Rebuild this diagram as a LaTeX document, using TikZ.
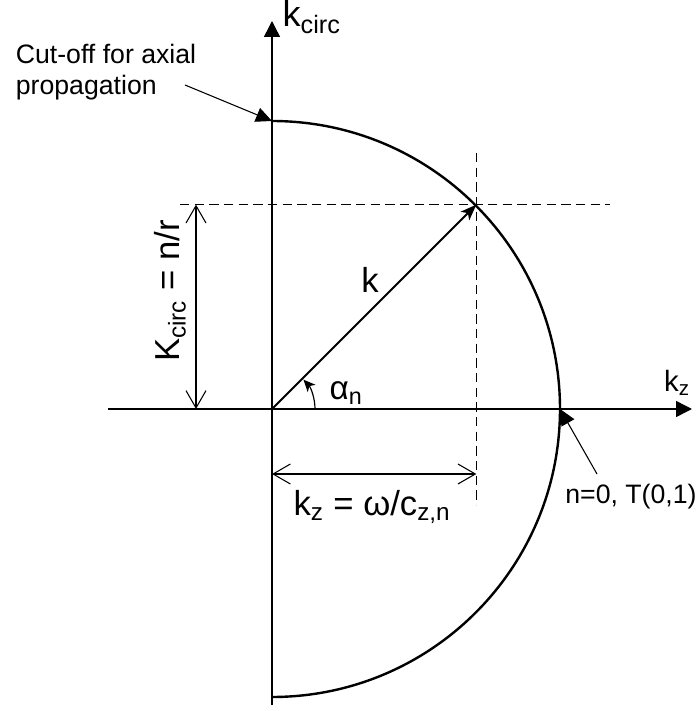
\documentclass[tikz,border=0pt]{standalone}
\usepackage{fontspec}
\setmainfont{Liberation Sans}
\usetikzlibrary{arrows.meta}

\tikzset{
  axisline/.style={line width=1.1pt,-{Triangle[length=12pt,width=12pt]}},
  guide/.style={line width=0.9pt,dash pattern=on 7pt off 4pt},
  measure/.style={line width=0.8pt,{Straight Barb[length=13pt,width=15pt]}-{Straight Barb[length=13pt,width=15pt]}},
  pointer/.style={line width=0.8pt,-{Triangle[length=12pt,width=11pt]}},
  smalltxt/.style={font=\fontsize{20}{23.5}\selectfont},
  bigtxt/.style={font=\fontsize{26}{30}\selectfont}
}

\begin{document}
\begin{tikzpicture}[x=0.75pt,y=0.75pt]
        \useasboundingbox (-272,-302) rectangle (427,409);
        % Origin and point on the circle
        \coordinate (O) at (0,0);
        \coordinate (P) at (45:289);
        \coordinate (top) at (0,288);
        \coordinate (right) at (288,0);
        % Axes
        \draw[axisline] (0,-296) -- (0,388);
        \draw[axisline] (-164,0) -- (420,0);
        \node[anchor=west,font=\fontsize{27}{30}\selectfont] (kcirc) at (6,392) {k\textsubscript{circ}};
        \node[font=\fontsize{22}{26}\selectfont] (kz) at (405,26) {k\textsubscript{z}};
        % Half circle
        \draw[line width=1.8pt] (top) arc[start angle=90,end angle=-90,radius=288];
        % Dashed guide lines through P
        \draw[guide] (-92,0 |- P) -- (338,0 |- P);
        \draw[guide] (P |- 0,256) -- (P |- 0,-96);
        % Wave vector
        \draw[line width=1.5pt,-{Stealth[length=12pt,width=9pt,inset=3pt]}] (O) -- (P);
        \node[bigtxt] (k) at (98,129) {k};
        % Angle
        \draw[line width=0.9pt,-{Stealth[length=9pt,width=8pt,inset=2.5pt]}] (43,0) arc[start angle=0,end angle=43,radius=43];
        \node[font=\fontsize{25}{29}\selectfont] (alpha) at (74,16) {α\textsubscript{n}};
        % Components
        \draw[measure] (-76,0) -- (-76,0 |- P);
        \node[bigtxt,rotate=90] (Kcirc) at (-102,118) {K\textsubscript{circ} = n/r};
        \draw[measure] (0,-65) -- (P |- 0,-65);
        \node[bigtxt] (kzval) at (100,-98) {k\textsubscript{z} = ω/c\textsubscript{z,n}};
        % Annotations
        \node[smalltxt,align=left] (cutoff) at (-166,337) {Cut-off for axial\\propagation};
        \draw[pointer] (-87,324) -- (top);
        \node[smalltxt] (tmode) at (359,-88) {n=0, T(0,1)};
        \draw[pointer] (325,-65) -- (right);
    \end{tikzpicture}
\end{document}
